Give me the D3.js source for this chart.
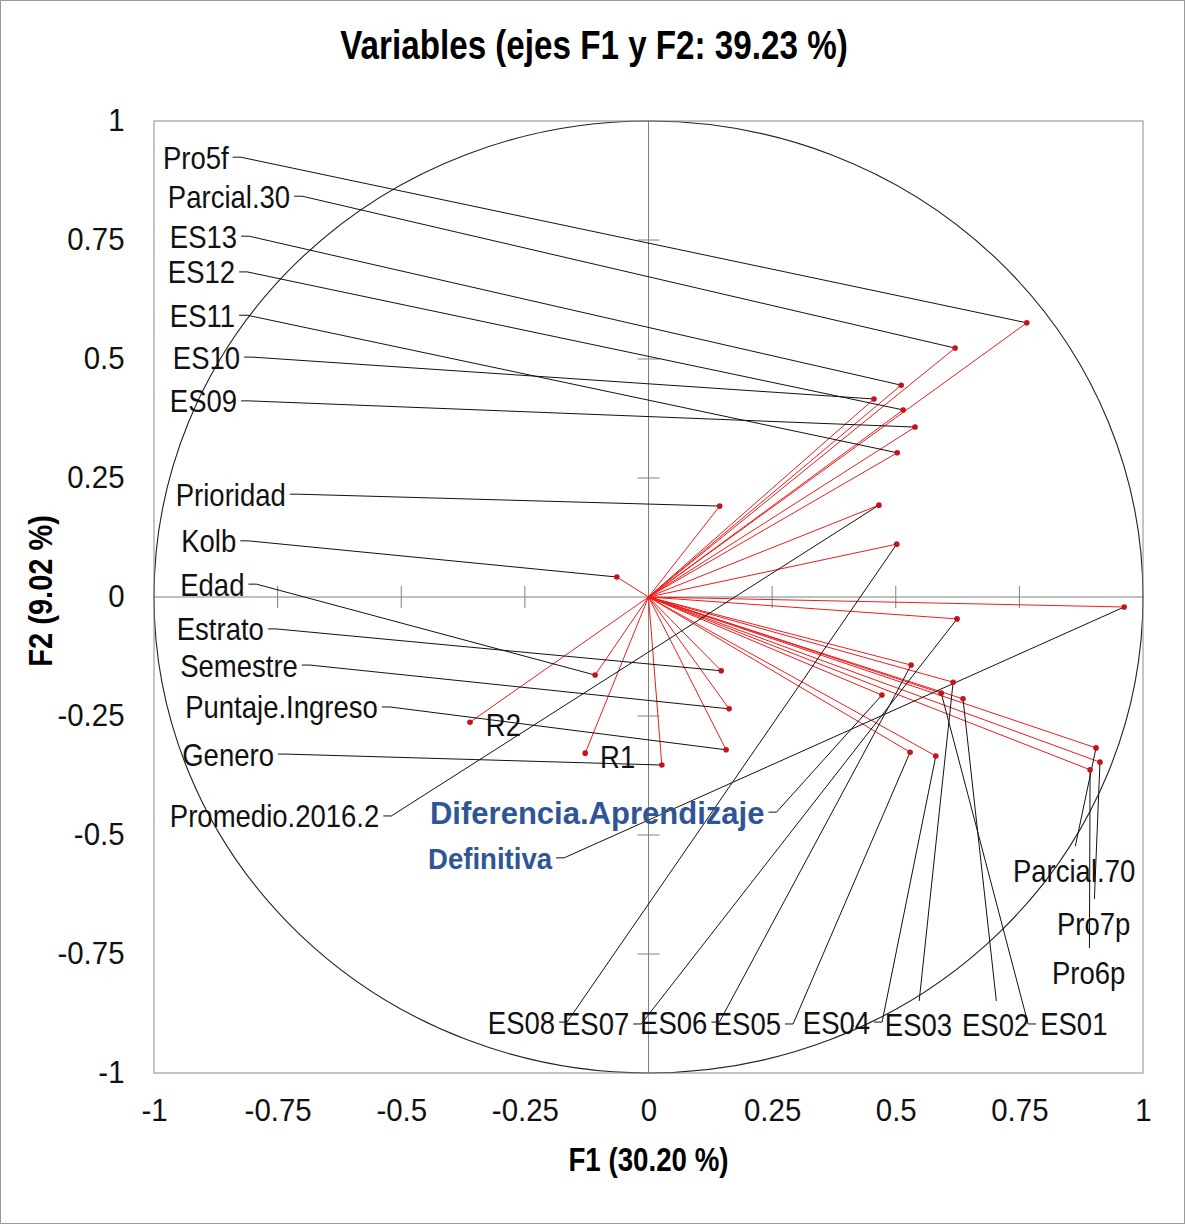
<!DOCTYPE html>
<html>
<head>
<meta charset="utf-8">
<script src="https://cdn.jsdelivr.net/npm/d3@7"></script>
<style>
  body { margin: 0; background: #fff; }
  text { font-family: "Liberation Sans", Arial, sans-serif; }
</style>
</head>
<body>
<svg id="chart" width="1185" height="1224"></svg>
<script>
// variables and their loadings on F1 / F2
var varNames = ["Pro5f", "Parcial.30", "ES13", "ES12", "ES11", "ES10", "ES09",
  "Prioridad", "Kolb", "Edad", "Estrato", "Semestre", "Puntaje.Ingreso", "Genero",
  "R1", "R2", "Promedio.2016.2", "Diferencia.Aprendizaje", "Definitiva",
  "Parcial.70", "Pro7p", "Pro6p",
  "ES08", "ES07", "ES06", "ES05", "ES04", "ES03", "ES02", "ES01"];
var f1 = [0.765, 0.620, 0.511, 0.515, 0.503, 0.456, 0.539,
  0.144, -0.064, -0.108, 0.147, 0.163, 0.157, 0.027,
  -0.128, -0.361, 0.466, 0.472, 0.962,
  0.905, 0.913, 0.893,
  0.502, 0.624, 0.531, 0.529, 0.581, 0.616, 0.636, 0.592];
var f2 = [0.576, 0.523, 0.445, 0.393, 0.303, 0.416, 0.357,
  0.191, 0.042, -0.164, -0.155, -0.235, -0.321, -0.353,
  -0.328, -0.263, 0.193, -0.206, -0.021,
  -0.317, -0.347, -0.363,
  0.111, -0.046, -0.143, -0.326, -0.334, -0.179, -0.214, -0.202];

var tickVals = [-1, -0.75, -0.5, -0.25, 0, 0.25, 0.5, 0.75, 1];
var innerTicks = [-0.75, -0.5, -0.25, 0.25, 0.5, 0.75];

var titleText = "Variables (ejes F1 y F2: 39.23 %)";
var xTitle = "F1 (30.20 %)";
var yTitle = "F2 (9.02 %)";

// label layout (left edge / vertical centre, in axis units) and where the leader attaches
var labelX = [-0.982, -0.972, -0.968, -0.972, -0.968, -0.962, -0.968,
  -0.956, -0.945, -0.947, -0.954, -0.947, -0.937, -0.943,
  -0.098, -0.329, -0.968, -0.442, -0.446,
  0.737, 0.826, 0.816,
  -0.325, -0.175, -0.017, 0.132, 0.312, 0.478, 0.634, 0.792];
var labelY = [0.924, 0.842, 0.758, 0.683, 0.592, 0.504, 0.412,
  0.216, 0.118, 0.027, -0.067, -0.143, -0.231, -0.330,
  -0.336, -0.267, -0.460, -0.452, -0.548,
  -0.574, -0.685, -0.788,
  -0.893, -0.897, -0.893, -0.897, -0.893, -0.899, -0.899, -0.897];
var labelSide = ["right", "right", "right", "right", "right", "right", "right",
  "right", "right", "right", "right", "right", "right", "right",
  "none", "none", "right", "right", "right",
  "top", "top", "top",
  "right", "right", "right", "right", "right", "top", "top", "left"];
var blueLabels = ["Diferencia.Aprendizaje", "Definitiva"];

var svg = d3.select("#chart");

var x = d3.scaleLinear().domain([-1, 1]).range([154, 1143]);
var y = d3.scaleLinear().domain([-1, 1]).range([1073, 121]);

// outer frame of the picture
svg.append("rect").attr("x", 0.5).attr("y", 0.5).attr("width", 1184).attr("height", 1223)
  .attr("fill", "none").attr("stroke", "#9a9a9a");

// title
svg.append("text").attr("transform", "translate(594,59) scale(0.83,1)")
  .attr("text-anchor", "middle").attr("font-size", 40).attr("font-weight", "bold")
  .text(titleText);

// centre axes
svg.append("line").attr("x1", x(-1)).attr("x2", x(1)).attr("y1", y(0)).attr("y2", y(0))
  .attr("stroke", "#808080");
svg.append("line").attr("x1", x(0)).attr("x2", x(0)).attr("y1", y(-1)).attr("y2", y(1))
  .attr("stroke", "#808080");
svg.selectAll(".xt").data(innerTicks).enter().append("line")
  .attr("x1", d => x(d)).attr("x2", d => x(d)).attr("y1", y(0) - 11).attr("y2", y(0) + 11)
  .attr("stroke", "#808080");
svg.selectAll(".yt").data(innerTicks).enter().append("line")
  .attr("y1", d => y(d)).attr("y2", d => y(d)).attr("x1", x(0) - 11).attr("x2", x(0) + 11)
  .attr("stroke", "#808080");

// correlation circle
svg.append("ellipse").attr("cx", x(0)).attr("cy", y(0))
  .attr("rx", x(1) - x(0)).attr("ry", y(0) - y(1))
  .attr("fill", "none").attr("stroke", "#222").attr("stroke-width", 1.1);

// plot frame
svg.append("rect").attr("x", x(-1)).attr("y", y(1))
  .attr("width", x(1) - x(-1)).attr("height", y(-1) - y(1))
  .attr("fill", "none").attr("stroke", "#8a8a8a");

// tick labels
var fmt = d => String(d);
var xAxis = d3.axisBottom(x).tickValues(tickVals).tickFormat(fmt).tickSize(0).tickPadding(26);
var yAxis = d3.axisLeft(y).tickValues(tickVals).tickFormat(fmt).tickSize(0).tickPadding(31);
var gx = svg.append("g").attr("transform", "translate(0," + y(-1) + ")").call(xAxis);
var gy = svg.append("g").attr("transform", "translate(" + x(-1) + ",0)").call(yAxis);
[gx, gy].forEach(function (g) {
  g.select(".domain").remove();
  g.selectAll("text").attr("font-size", 31).attr("fill", "#111")
    .attr("transform", "scale(0.95,1)")
    .attr("font-family", "'Liberation Sans', Arial, sans-serif");
});

// axis titles
svg.append("text").attr("transform", "translate(" + x(0) + ",1171) scale(0.84,1)")
  .attr("text-anchor", "middle").attr("font-size", 33).attr("font-weight", "bold")
  .text(xTitle);
svg.append("text").attr("transform", "translate(52," + y(0.013) + ") rotate(-90) scale(0.88,1)")
  .attr("text-anchor", "middle").attr("font-size", 33).attr("font-weight", "bold")
  .text(yTitle);

// vectors from origin
var vars = varNames.map(function (n, i) {
  return { name: n, f1: f1[i], f2: f2[i], lx: labelX[i], ly: labelY[i], side: labelSide[i] };
});

svg.append("g").selectAll("line").data(vars).enter().append("line")
  .attr("x1", x(0)).attr("y1", y(0))
  .attr("x2", d => x(d.f1)).attr("y2", d => y(d.f2))
  .attr("stroke", "#ee1c1c").attr("stroke-width", 1);

// leader lines go under the labels
var gLead = svg.append("g");
var gLab = svg.append("g");
vars.forEach(function (d) {
  var blue = blueLabels.indexOf(d.name) >= 0;
  var fs = 32, sx = 0.86;
  if (d.name === "Diferencia.Aprendizaje") { fs = 32; sx = 0.97; }
  if (d.name === "Definitiva") { fs = 30; sx = 0.92; }
  var tx = x(d.lx), ty = y(d.ly);
  var t = gLab.append("text")
    .attr("transform", "translate(" + tx + "," + ty + ") scale(" + sx + ",1)")
    .attr("dy", "0.36em")
    .attr("font-size", fs)
    .attr("font-weight", blue ? "bold" : "normal")
    .attr("fill", blue ? "#2f5597" : "#111")
    .text(d.name);
  var w = t.node().getComputedTextLength() * sx;
  var px = x(d.f1), py = y(d.f2);
  var pts = null;
  if (d.side === "right") {
    pts = [[tx + w + 4, ty], [tx + w + 12, ty], [px, py]];
  } else if (d.side === "left") {
    pts = [[tx - 4, ty], [tx - 12, ty], [px, py]];
  } else if (d.side === "top") {
    pts = [[tx + w * 0.51, ty - 24], [px, py]];
  }
  if (pts) {
    gLead.append("path").attr("d", d3.line()(pts))
      .attr("fill", "none").attr("stroke", "#111").attr("stroke-width", 1);
  }
});

// points
svg.append("g").selectAll("circle").data(vars).enter().append("circle")
  .attr("cx", d => x(d.f1)).attr("cy", d => y(d.f2)).attr("r", 2.8)
  .attr("fill", "#c8121a");
</script>
</body>
</html>
